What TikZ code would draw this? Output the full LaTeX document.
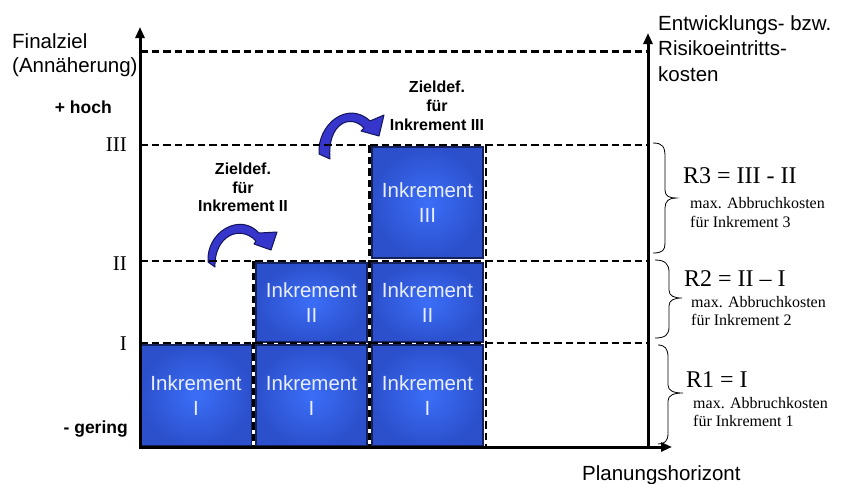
\documentclass[tikz,border=0pt]{standalone}
\usepackage{fontspec}
\setmainfont{Liberation Sans}
\newfontfamily\seriffont{Liberation Serif}
\usetikzlibrary{arrows.meta}
\definecolor{boxin}{HTML}{3B6EF8}
\definecolor{boxout}{HTML}{2C50CC}
\definecolor{boxline}{HTML}{16205A}
\definecolor{arrfill}{HTML}{3636CC}
\definecolor{arrline}{HTML}{14145A}
\definecolor{boxtext}{HTML}{E8EEFF}
\begin{document}
\begin{tikzpicture}[x=1pt,y=-1pt,
  axisline/.style={line width=3pt, -{Triangle[width=9pt,length=11pt]}},
  gridline/.style={line width=2.5pt, dash pattern=on 7.5pt off 4pt},
  gapline/.style={line width=3.5pt, white},
  incbox/.style={draw=boxline, line width=1.5pt, inner color=boxin, outer color=boxout, text=boxtext, align=center, font=\fontsize{20.5}{25}\selectfont, inner sep=0pt},
  curvarrow/.style={fill=arrfill, draw=arrline, line width=1pt, line join=round},
  lbl/.style={inner sep=0pt, font=\fontsize{20.5}{24}\selectfont},
  blbl/.style={inner sep=0pt, font=\bfseries\fontsize{16}{19}\selectfont},
  hlbl/.style={inner sep=0pt, font=\bfseries\fontsize{17.5}{20}\selectfont},
  rom/.style={inner sep=0pt, font=\seriffont\fontsize{21}{24}\selectfont},
  rlbl/.style={inner sep=0pt, font=\seriffont\fontsize{24}{27}\selectfont},
  slbl/.style={inner sep=0pt, font=\seriffont\fontsize{16}{19}\selectfont},
  bracepath/.style={line width=0.8pt}
]
\useasboundingbox[fill=white] (0,0) rectangle (847,483);

% curved arrows
\draw[curvarrow] (208,262) .. controls (206,232) and (240,212) .. (259,233)
  -- (277,232) -- (271,250) -- (254,244) -- (256,241)
  .. controls (240,224) and (214,236) .. (215,267) -- cycle;
\draw[curvarrow] (319,154) .. controls (317,124) and (348,100) .. (370,121)
  -- (384,115) -- (379,136) -- (361,131) -- (364,128)
  .. controls (350,113) and (327,124) .. (330,159) -- cycle;

% boxes
\node[incbox, minimum width=112pt, minimum height=101pt] (b11) at (196,395.5) {Inkrement\\I};
\node[incbox, minimum width=111pt, minimum height=101pt] (b21) at (311.5,395.5) {Inkrement\\I};
\node[incbox, minimum width=111pt, minimum height=101pt] (b31) at (427.5,395.5) {Inkrement\\I};
\node[incbox, minimum width=111pt, minimum height=79pt] (b22) at (311.5,302.5) {Inkrement\\II};
\node[incbox, minimum width=111pt, minimum height=79pt] (b32) at (427.5,302.5) {Inkrement\\II};
\node[incbox, minimum width=111pt, minimum height=111pt] (b33) at (427.5,202.5) {Inkrement\\III};

% column outlines
\draw[gapline] (253.5,261) -- (253.5,447);
\draw[gapline] (369.5,145) -- (369.5,447);
\draw[gridline] (253.5,261) -- (253.5,447);
\draw[gridline] (369.5,145) -- (369.5,447);
\draw[gridline] (486,145) -- (486,447);

% grid lines
\draw[gridline] (140,51.5) -- (648,51.5);
\draw[gridline] (140,145) -- (648,145);
\draw[gridline] (140,261) -- (648,261);
\draw[gridline] (140,343) -- (648,343);

% axes
\draw[axisline] (140,448.5) -- (140,27);
\draw[axisline] (138.5,447) -- (672,447);
\draw[axisline] (648,448.5) -- (648,33);

% axis texts
\node[lbl, anchor=base west] (fz1) at (12,48) {Finalziel};
\node[lbl, anchor=base west] (fz2) at (12,72) {(Annäherung)};
\node[lbl, anchor=base west] (ek1) at (658,30) {Entwicklungs- bzw.};
\node[lbl, anchor=base west] (ek2) at (658,55.5) {Risikoeintritts-};
\node[lbl, anchor=base west] (ek3) at (658,81) {kosten};
\node[lbl, anchor=base west] (ph) at (582,480) {Planungshorizont};

\node[hlbl, anchor=base east] (hoch) at (112,113) {+ hoch};
\node[hlbl, anchor=base east] (gering) at (128,433) {- gering};

\node[rom, anchor=base east] (r3) at (127,151) {III};
\node[rom, anchor=base east] (r2) at (127,270) {II};
\node[rom, anchor=base east] (r1) at (127,350) {I};

% goal definition labels
\node[blbl, anchor=base] (zA1) at (437,92) {Zieldef.};
\node[blbl, anchor=base] (zA2) at (437,111.5) {für};
\node[blbl, anchor=base] (zA3) at (437,130.5) {Inkrement III};
\node[blbl, anchor=base] (zB1) at (243,174) {Zieldef.};
\node[blbl, anchor=base] (zB2) at (243,193) {für};
\node[blbl, anchor=base] (zB3) at (243,211) {Inkrement II};

% braces
\draw[bracepath] (653,143) .. controls (663,143) and (665,147) .. (665,157) -- (665,190)
  .. controls (665,196) and (669,198) .. (676,198) .. controls (669,198) and (665,201) .. (665,208)
  -- (665,243) .. controls (665,250) and (663,253) .. (653,253);
\draw[bracepath] (655,260) .. controls (665,260) and (669,264) .. (669,272) -- (669,290)
  .. controls (669,296) and (674,298) .. (682,298) .. controls (674,298) and (669,300) .. (669,306)
  -- (669,327) .. controls (669,335) and (665,338) .. (655,338);
\draw[bracepath] (658,345) .. controls (665,345) and (668,349) .. (668,357) -- (668,385)
  .. controls (668,391) and (674,393) .. (683,393) .. controls (674,393) and (668,395) .. (668,401)
  -- (668,433) .. controls (668,441) and (665,444) .. (658,444);

% risk texts
\node[rlbl, anchor=base west] (t3a) at (683,183) {R3 = III - II};
\node[slbl, anchor=base west] (t3b) at (690,208) {max. Abbruchkosten};
\node[slbl, anchor=base west] (t3c) at (690,227) {für Inkrement 3};
\node[rlbl, anchor=base west] (t2a) at (684,286) {R2 = II – I};
\node[slbl, anchor=base west] (t2b) at (691,307) {max. Abbruchkosten};
\node[slbl, anchor=base west] (t2c) at (691,325) {für Inkrement 2};
\node[rlbl, anchor=base west] (t1a) at (686,387) {R1 = I};
\node[slbl, anchor=base west] (t1b) at (693,408) {max. Abbruchkosten};
\node[slbl, anchor=base west] (t1c) at (693,426) {für Inkrement 1};
\end{tikzpicture}
\end{document}
